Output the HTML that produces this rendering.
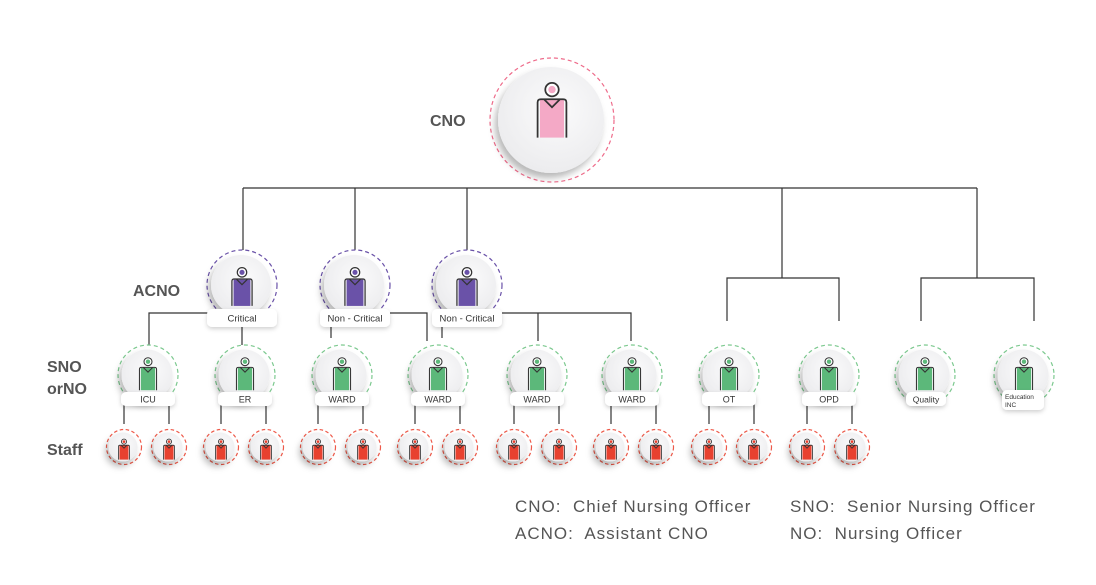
<!DOCTYPE html>
<html><head><meta charset="utf-8"><style>
html,body{margin:0;padding:0;background:#fff;}
svg{display:block;font-family:"Liberation Sans",sans-serif;}
</style></head><body>
<svg width="1096" height="585" viewBox="0 0 1096 585" xmlns="http://www.w3.org/2000/svg">
<defs>
<radialGradient id="wg" cx="0.55" cy="0.4" r="0.6"><stop offset="0" stop-color="#fbfbfc"/><stop offset="1" stop-color="#ececee"/></radialGradient>
<filter id="sh" x="-50%" y="-50%" width="200%" height="200%"><feDropShadow dx="-3" dy="5" stdDeviation="3.5" flood-color="#000" flood-opacity="0.28"/></filter>
<filter id="sl" x="-50%" y="-50%" width="200%" height="200%"><feDropShadow dx="0" dy="2" stdDeviation="2" flood-color="#000" flood-opacity="0.18"/></filter>
<g id="pp"><rect x="-7.5" y="-7.5" width="15" height="23.5" fill="#f4a9c6"/><path d="M-9,16 V-6 Q-9,-8 -7,-8 H7 Q9,-8 9,-6 V16 M-5,-8 L0,-3 L5,-8" fill="none" stroke="#333" stroke-width="1.1"/><circle cx="0" cy="-14" r="4.2" fill="#fff" stroke="#333" stroke-width="1.1"/><circle cx="0" cy="-14" r="2.3" fill="#f4a9c6"/></g>
<g id="pv"><rect x="-7.5" y="-7.5" width="15" height="23.5" fill="#6a52a8"/><path d="M-9,16 V-6 Q-9,-8 -7,-8 H7 Q9,-8 9,-6 V16 M-5,-8 L0,-3 L5,-8" fill="none" stroke="#333" stroke-width="1.1"/><circle cx="0" cy="-14" r="4.2" fill="#fff" stroke="#333" stroke-width="1.1"/><circle cx="0" cy="-14" r="2.3" fill="#6a52a8"/></g>
<g id="pg"><rect x="-7.5" y="-7.5" width="15" height="23.5" fill="#5cb87a"/><path d="M-9,16 V-6 Q-9,-8 -7,-8 H7 Q9,-8 9,-6 V16 M-5,-8 L0,-3 L5,-8" fill="none" stroke="#333" stroke-width="1.1"/><circle cx="0" cy="-14" r="4.2" fill="#fff" stroke="#333" stroke-width="1.1"/><circle cx="0" cy="-14" r="2.3" fill="#5cb87a"/></g>
<g id="pr"><rect x="-7.5" y="-7.5" width="15" height="23.5" fill="#e8412f"/><path d="M-9,16 V-6 Q-9,-8 -7,-8 H7 Q9,-8 9,-6 V16 M-5,-8 L0,-3 L5,-8" fill="none" stroke="#333" stroke-width="1.4"/><circle cx="0" cy="-14" r="4.2" fill="#fff" stroke="#333" stroke-width="1.4"/><circle cx="0" cy="-14" r="2.3" fill="#e8412f"/></g>
<g id="nc"><circle r="62" fill="none" stroke="#ee6b8a" stroke-width="1.2" stroke-dasharray="4 3"/><circle cx="-1" r="53" fill="url(#wg)" filter="url(#sh)"/></g>
<g id="na"><circle r="35" fill="none" stroke="#6a52a8" stroke-width="1.2" stroke-dasharray="4 3"/><circle cx="-1" r="30" fill="url(#wg)" filter="url(#sh)"/></g>
<g id="ns"><circle r="30" fill="none" stroke="#7cc98f" stroke-width="1.2" stroke-dasharray="4 3"/><circle cx="-1" r="25.5" fill="url(#wg)" filter="url(#sh)"/></g>
<g id="nr"><circle r="17.5" fill="none" stroke="#ee5a4a" stroke-width="1.2" stroke-dasharray="3.5 2.5"/><circle cx="-1" r="14.5" fill="url(#wg)" filter="url(#sh)"/></g>
</defs>

<g fill="none" stroke="#333" stroke-width="1.2">
<path d="M243,188 H977 M243,188 V250 M355,188 V250 M467,188 V250 M782,188 V278 M977,188 V278"/>
<path d="M727,321 V278 H839 V321 M921,321 V278 H1034 V321"/>
<path d="M149,345 V313 H210 M242,325 V345"/>
<path d="M331,325 V338 M390,313 H427 V341"/>
<path d="M502,313 H631 V341 M538,313 V341 M442,325 V338"/>
</g>
<g fill="none" stroke="#333" stroke-width="1.2">
<path d="M129,398 H124 V424 M164,398 H169 V424"/>
<path d="M226,398 H221 V424 M261,398 H266 V424"/>
<path d="M323,398 H318 V424 M358,398 H363 V424"/>
<path d="M420,398 H415 V424 M455,398 H460 V424"/>
<path d="M519,398 H514 V424 M554,398 H559 V424"/>
<path d="M616,398 H611 V424 M651,398 H656 V424"/>
<path d="M714,398 H709 V424 M749,398 H754 V424"/>
<path d="M812,398 H807 V424 M847,398 H852 V424"/>
</g>

<use href="#nc" x="552" y="120"/>
<use href="#pp" transform="translate(552,112) scale(1.6)"/>

<use href="#na" x="242" y="285"/><use href="#pv" transform="translate(242,288) scale(1.12)"/>
<use href="#na" x="355" y="285"/><use href="#pv" transform="translate(355,288) scale(1.12)"/>
<use href="#na" x="467" y="285"/><use href="#pv" transform="translate(467,288) scale(1.12)"/>

<g filter="url(#sl)" fill="#fff">
<rect x="207" y="309" width="70" height="18" rx="5"/>
<rect x="320" y="309" width="70" height="18" rx="5"/>
<rect x="432" y="309" width="70" height="18" rx="5"/>
</g>
<g font-size="9.5" fill="#333" text-anchor="middle">
<text x="242" y="321.5">Critical</text>
<text x="355" y="321.5">Non - Critical</text>
<text x="467" y="321.5">Non - Critical</text>
</g>

<g>
<use href="#ns" x="148" y="375"/><use href="#pg" transform="translate(148,375) scale(0.95)"/>
<use href="#ns" x="245" y="375"/><use href="#pg" transform="translate(245,375) scale(0.95)"/>
<use href="#ns" x="342" y="375"/><use href="#pg" transform="translate(342,375) scale(0.95)"/>
<use href="#ns" x="438" y="375"/><use href="#pg" transform="translate(438,375) scale(0.95)"/>
<use href="#ns" x="537" y="375"/><use href="#pg" transform="translate(537,375) scale(0.95)"/>
<use href="#ns" x="632" y="375"/><use href="#pg" transform="translate(632,375) scale(0.95)"/>
<use href="#ns" x="729" y="375"/><use href="#pg" transform="translate(729,375) scale(0.95)"/>
<use href="#ns" x="829" y="375"/><use href="#pg" transform="translate(829,375) scale(0.95)"/>
<use href="#ns" x="925" y="375"/><use href="#pg" transform="translate(925,375) scale(0.95)"/>
<use href="#ns" x="1024" y="375"/><use href="#pg" transform="translate(1024,375) scale(0.95)"/>
</g>
<g filter="url(#sl)" fill="#fff">
<rect x="121" y="392" width="54" height="14" rx="5"/>
<rect x="218" y="392" width="54" height="14" rx="5"/>
<rect x="315" y="392" width="54" height="14" rx="5"/>
<rect x="411" y="392" width="54" height="14" rx="5"/>
<rect x="510" y="392" width="54" height="14" rx="5"/>
<rect x="605" y="392" width="54" height="14" rx="5"/>
<rect x="702" y="392" width="54" height="14" rx="5"/>
<rect x="802" y="392" width="54" height="14" rx="5"/>
<rect x="906" y="392" width="40" height="14" rx="5"/>
<rect x="1002" y="390" width="42" height="20" rx="5"/>
</g>
<g font-size="9" fill="#333" text-anchor="middle">
<text x="148" y="402.5">ICU</text>
<text x="245" y="402.5">ER</text>
<text x="342" y="402.5">WARD</text>
<text x="438" y="402.5">WARD</text>
<text x="537" y="402.5">WARD</text>
<text x="632" y="402.5">WARD</text>
<text x="729" y="402.5">OT</text>
<text x="829" y="402.5">OPD</text>
<text x="926" y="402.5" font-size="8.5">Quality</text>
<text x="1005" y="399" font-size="6.5" text-anchor="start">Education</text>
<text x="1005" y="407" font-size="6.5" text-anchor="start">INC</text>
</g>

<g>
<use href="#nr" x="124" y="447"/><use href="#pr" transform="translate(124,450) scale(0.6)"/>
<use href="#nr" x="169" y="447"/><use href="#pr" transform="translate(169,450) scale(0.6)"/>
<use href="#nr" x="221" y="447"/><use href="#pr" transform="translate(221,450) scale(0.6)"/>
<use href="#nr" x="266" y="447"/><use href="#pr" transform="translate(266,450) scale(0.6)"/>
<use href="#nr" x="318" y="447"/><use href="#pr" transform="translate(318,450) scale(0.6)"/>
<use href="#nr" x="363" y="447"/><use href="#pr" transform="translate(363,450) scale(0.6)"/>
<use href="#nr" x="415" y="447"/><use href="#pr" transform="translate(415,450) scale(0.6)"/>
<use href="#nr" x="460" y="447"/><use href="#pr" transform="translate(460,450) scale(0.6)"/>
<use href="#nr" x="514" y="447"/><use href="#pr" transform="translate(514,450) scale(0.6)"/>
<use href="#nr" x="559" y="447"/><use href="#pr" transform="translate(559,450) scale(0.6)"/>
<use href="#nr" x="611" y="447"/><use href="#pr" transform="translate(611,450) scale(0.6)"/>
<use href="#nr" x="656" y="447"/><use href="#pr" transform="translate(656,450) scale(0.6)"/>
<use href="#nr" x="709" y="447"/><use href="#pr" transform="translate(709,450) scale(0.6)"/>
<use href="#nr" x="754" y="447"/><use href="#pr" transform="translate(754,450) scale(0.6)"/>
<use href="#nr" x="807" y="447"/><use href="#pr" transform="translate(807,450) scale(0.6)"/>
<use href="#nr" x="852" y="447"/><use href="#pr" transform="translate(852,450) scale(0.6)"/>
</g>

<g font-size="16" font-weight="bold" fill="#555">
<text x="430" y="126">CNO</text>
<text x="133" y="296">ACNO</text>
<text x="47" y="372">SNO</text>
<text x="47" y="394">orNO</text>
<text x="47" y="455">Staff</text>
</g>
<g font-size="17" fill="#555" letter-spacing="1">
<text x="515" y="512" xml:space="preserve">CNO:  Chief Nursing Officer</text>
<text x="515" y="539" xml:space="preserve">ACNO:  Assistant CNO</text>
<text x="790" y="512" xml:space="preserve">SNO:  Senior Nursing Officer</text>
<text x="790" y="539" xml:space="preserve">NO:  Nursing Officer</text>
</g>
</svg>
</body></html>
